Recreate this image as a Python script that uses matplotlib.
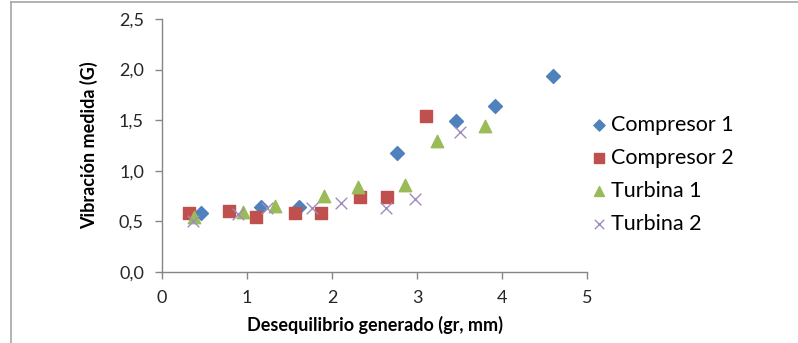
import matplotlib.pyplot as plt
from matplotlib.lines import Line2D
from matplotlib.ticker import FuncFormatter

plt.rcParams['font.family'] = ['Lato', 'DejaVu Sans']

# Data
comp1_x = [0.46, 1.16, 1.61, 2.76, 3.46, 3.92, 4.60]
comp1_y = [0.58, 0.64, 0.64, 1.18, 1.49, 1.64, 1.94]

comp2_x = [0.32, 0.79, 1.10, 1.56, 1.87, 2.33, 2.65, 3.11]
comp2_y = [0.58, 0.60, 0.54, 0.58, 0.58, 0.74, 0.74, 1.54]

turb1_x = [0.38, 0.95, 1.33, 1.90, 2.30, 2.86, 3.23, 3.80]
turb1_y = [0.54, 0.59, 0.65, 0.75, 0.84, 0.86, 1.29, 1.44]

turb2_x = [0.36, 0.89, 1.23, 1.76, 2.10, 2.63, 2.98, 3.51]
turb2_y = [0.50, 0.57, 0.63, 0.63, 0.68, 0.63, 0.72, 1.38]

fig = plt.figure(figsize=(7.98, 3.43), dpi=100)
ax = fig.add_axes([162 / 798, 71 / 343, 425 / 798, 253 / 343])

ax.scatter(comp1_x, comp1_y, marker='D', s=50, color='#4F81BD', label='Compresor 1', zorder=3)
ax.scatter(comp2_x, comp2_y, marker='s', s=80, color='#C0504D', label='Compresor 2', zorder=3)
ax.scatter(turb1_x, turb1_y, marker='^', s=80, color='#9BBB59', label='Turbina 1', zorder=3)
ax.scatter(turb2_x, turb2_y, marker='x', s=70, color='#9F8BC0', linewidths=1.0, label='Turbina 2', zorder=3)

ax.set_xlim(0, 5)
ax.set_ylim(0, 2.5)
ax.set_xticks([0, 1, 2, 3, 4, 5])
ax.set_yticks([0, 0.5, 1.0, 1.5, 2.0, 2.5])
ax.yaxis.set_major_formatter(FuncFormatter(lambda v, p: f'{v:.1f}'.replace('.', ',')))

for side in ['top', 'right']:
    ax.spines[side].set_visible(False)
for side in ['left', 'bottom']:
    ax.spines[side].set_color('#868686')
    ax.spines[side].set_linewidth(1.0)
ax.tick_params(colors='#868686', labelcolor='#262626', labelsize=13, length=5, width=1.0, pad=8)

ax.set_xlabel('Desequilibrio generado (gr, mm)', fontsize=13, fontweight='bold', labelpad=7)
ax.set_ylabel('Vibración medida (G)', fontsize=13, fontweight='bold', labelpad=15)

leg = ax.legend(loc='upper left', bbox_to_anchor=(579 / 798, 1 - 104 / 343), bbox_transform=fig.transFigure,
                frameon=False, fontsize=15.5, handletextpad=0.1, labelspacing=0.6, borderpad=0,
                handlelength=0.9, markerscale=0.8)

# outer frame lines (left and top)
fig.add_artist(Line2D([11 / 798, 11 / 798], [0, 1 - 2 / 343], transform=fig.transFigure, color='#A6A6A6', lw=1.2))
fig.add_artist(Line2D([11 / 798, 1], [1 - 2 / 343, 1 - 2 / 343], transform=fig.transFigure, color='#A6A6A6', lw=1.2))

fig.savefig('out.png', dpi=100)
